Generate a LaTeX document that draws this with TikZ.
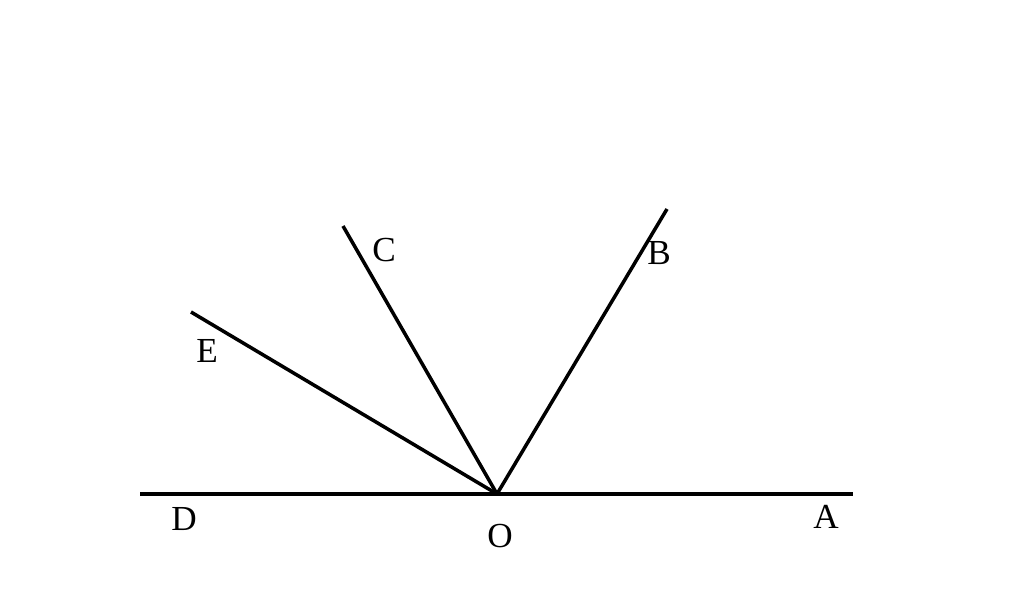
\documentclass[tikz,border=0pt]{standalone}
\usepackage{fontspec}
\setmainfont{Liberation Serif}
\tikzset{
ray/.style={line width=1pt},
lbl/.style={font=\fontsize{10}{10}\selectfont, inner sep=0pt}
}

\begin{document}
\begin{tikzpicture}[x=0.01cm, y=-0.01cm]
	\useasboundingbox (0,0) rectangle (1024,612);
	\coordinate (O) at (497,494);
	\coordinate (D) at (140,494);
	\coordinate (A) at (853,494);
	\coordinate (B) at (667,209);
	\coordinate (C) at (343,226);
	\coordinate (E) at (191,312);
	\draw[ray] (D) -- (A);
	\draw[ray] (O) -- (B);
	\draw[ray] (O) -- (C);
	\draw[ray] (O) -- (E);
	\node[lbl] (lC) at (384,250) {C};
	\node[lbl] (lB) at (659,253) {B};
	\node[lbl] (lE) at (207,351) {E};
	\node[lbl] (lD) at (184,519) {D};
	\node[lbl] (lO) at (500,536) {O};
	\node[lbl] (lA) at (826,517) {A};
\end{tikzpicture}
\end{document}
